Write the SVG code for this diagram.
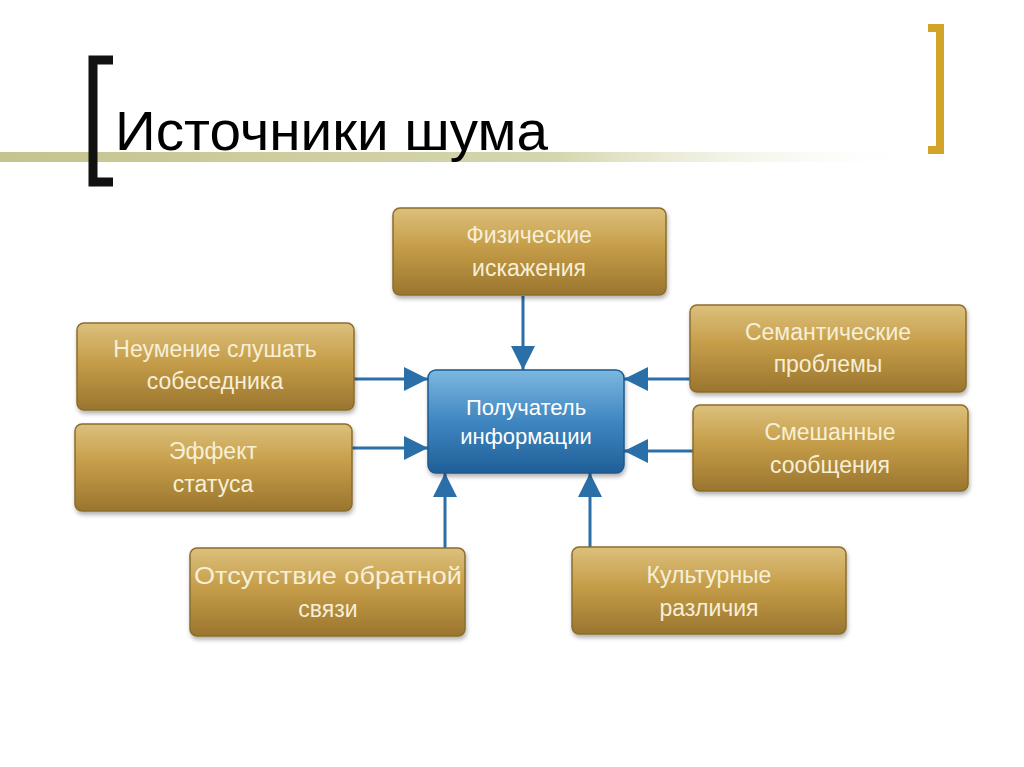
<svg xmlns="http://www.w3.org/2000/svg" width="1024" height="767" viewBox="0 0 1024 767">
<defs>
<linearGradient id="gold" x1="0" y1="0" x2="0" y2="1">
<stop offset="0" stop-color="#dcc07c"/>
<stop offset="0.45" stop-color="#c59d49"/>
<stop offset="1" stop-color="#9a752e"/>
</linearGradient>
<linearGradient id="blue" x1="0" y1="0" x2="0" y2="1">
<stop offset="0" stop-color="#7cb8e0"/>
<stop offset="0.5" stop-color="#3f86c0"/>
<stop offset="1" stop-color="#1f5f98"/>
</linearGradient>
<linearGradient id="band" x1="0" y1="0" x2="1" y2="0">
<stop offset="0" stop-color="#c4c48e"/>
<stop offset="0.6" stop-color="#d6d6ae"/>
<stop offset="1" stop-color="#ffffff" stop-opacity="0"/>
</linearGradient>
<filter id="sh" x="-10%" y="-10%" width="120%" height="130%">
<feDropShadow dx="1" dy="3" stdDeviation="2" flood-color="#000" flood-opacity="0.3"/>
</filter>
<marker id="ah" viewBox="0 0 10 10" refX="10" refY="5" markerWidth="26" markerHeight="24" markerUnits="userSpaceOnUse" orient="auto">
<path d="M0,0 L10,5 L0,10 Z" fill="#2a6fa8"/>
</marker>
<style>
.box{fill:url(#gold);stroke:#8c6c2c;stroke-width:1.5;filter:url(#sh)}
.t{font-family:"Liberation Sans",Arial,sans-serif;font-size:23px;fill:#f7efd6;text-anchor:middle}
.ct{font-family:"Liberation Sans",Arial,sans-serif;font-size:22px;fill:#ffffff;text-anchor:middle}
.c{stroke:#2a6fa8;stroke-width:3;fill:none;marker-end:url(#ah)}
</style>
</defs>
<rect width="1024" height="767" fill="#ffffff"/>
<g id="title">
<rect x="0" y="152" width="930" height="10" fill="url(#band)"/>
<path d="M113,60 H93 V182 H113" fill="none" stroke="#111" stroke-width="9"/>
<path d="M928,28 H940 V150 H928" fill="none" stroke="#d2a52a" stroke-width="8"/>
<text x="115" y="150" font-family="'Liberation Sans',Arial,sans-serif" font-size="56" fill="#000" textLength="433" lengthAdjust="spacingAndGlyphs">Источники шума</text>
</g>
<g id="connectors">
<line class="c" x1="523" y1="296" x2="523" y2="370"/>
<line class="c" x1="354" y1="379" x2="428" y2="379"/>
<line class="c" x1="352" y1="448" x2="428" y2="448"/>
<line class="c" x1="690" y1="379" x2="624" y2="379"/>
<line class="c" x1="693" y1="451" x2="624" y2="451"/>
<line class="c" x1="445" y1="548" x2="445" y2="473"/>
<line class="c" x1="590" y1="547" x2="590" y2="473"/>
</g>
<g id="n-center">
<rect x="428" y="370" width="196" height="103" rx="8" fill="url(#blue)" stroke="#1d5a8e" stroke-width="1.5" filter="url(#sh)"/>
<text class="ct" x="526" y="415">Получатель</text>
<text class="ct" x="526" y="444">информации</text>
</g>
<g id="n-phys">
<rect class="box" x="393" y="208" width="273" height="87" rx="7"/>
<text class="t" x="529" y="243">Физические</text>
<text class="t" x="529" y="276">искажения</text>
</g>
<g id="n-listen">
<rect class="box" x="77" y="323" width="277" height="87" rx="7"/>
<text class="t" x="215" y="357">Неумение слушать</text>
<text class="t" x="215" y="389">собеседника</text>
</g>
<g id="n-status">
<rect class="box" x="75" y="424" width="277" height="87" rx="7"/>
<text class="t" x="213" y="459">Эффект</text>
<text class="t" x="213" y="492">статуса</text>
</g>
<g id="n-sem">
<rect class="box" x="690" y="305" width="276" height="87" rx="7"/>
<text class="t" x="828" y="340">Семантические</text>
<text class="t" x="828" y="372">проблемы</text>
</g>
<g id="n-mixed">
<rect class="box" x="693" y="405" width="275" height="86" rx="7"/>
<text class="t" x="830" y="440">Смешанные</text>
<text class="t" x="830" y="473">сообщения</text>
</g>
<g id="n-feedback">
<rect class="box" x="190" y="548" width="275" height="88" rx="7"/>
<text class="t" x="328" y="584" textLength="268" lengthAdjust="spacingAndGlyphs">Отсутствие обратной</text>
<text class="t" x="328" y="617">связи</text>
</g>
<g id="n-culture">
<rect class="box" x="572" y="547" width="274" height="87" rx="7"/>
<text class="t" x="709" y="583">Культурные</text>
<text class="t" x="709" y="616">различия</text>
</g>
</svg>
